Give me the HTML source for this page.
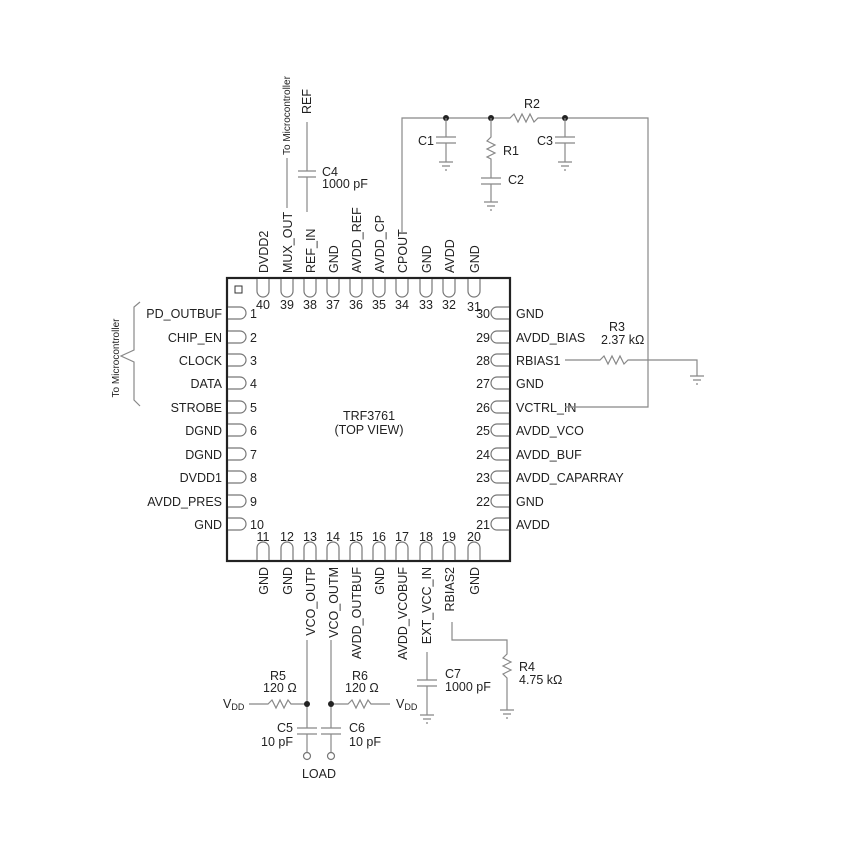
<!DOCTYPE html>
<html><head><meta charset="utf-8"><style>
html,body{margin:0;padding:0;background:#fff}
svg{display:block}
text{font-family:"Liberation Sans",sans-serif;font-size:12.5px;fill:#222}
.w{stroke:#888;stroke-width:1.2;fill:none}
.p{stroke:#777;stroke-width:1.2;fill:#fff}
</style></head><body>
<svg width="845" height="849" viewBox="0 0 845 849" xmlns="http://www.w3.org/2000/svg">
<rect x="227" y="278" width="283" height="283" fill="#fff" stroke="#222" stroke-width="2.2"/>
<rect x="235" y="286" width="7" height="7" fill="none" stroke="#333" stroke-width="1"/>
<g class="p">
<path d="M257 279V291A6 6 0 0 0 269 291V279"/>
<path d="M281 279V291A6 6 0 0 0 293 291V279"/>
<path d="M304 279V291A6 6 0 0 0 316 291V279"/>
<path d="M327 279V291A6 6 0 0 0 339 291V279"/>
<path d="M350 279V291A6 6 0 0 0 362 291V279"/>
<path d="M373 279V291A6 6 0 0 0 385 291V279"/>
<path d="M396 279V291A6 6 0 0 0 408 291V279"/>
<path d="M420 279V291A6 6 0 0 0 432 291V279"/>
<path d="M443 279V291A6 6 0 0 0 455 291V279"/>
<path d="M468 279V291A6 6 0 0 0 480 291V279"/>
</g>
<g text-anchor="middle">
<text x="263" y="309">40</text><text x="287" y="309">39</text><text x="310" y="309">38</text><text x="333" y="309">37</text><text x="356" y="309">36</text><text x="379" y="309">35</text><text x="402" y="309">34</text><text x="426" y="309">33</text><text x="449" y="309">32</text><text x="474" y="311">31</text>
</g>
<g text-anchor="start">
<text transform="translate(268,273) rotate(-90)">DVDD2</text>
<text transform="translate(292,273) rotate(-90)">MUX_OUT</text>
<text transform="translate(315,273) rotate(-90)">REF_IN</text>
<text transform="translate(338,273) rotate(-90)">GND</text>
<text transform="translate(361,273) rotate(-90)">AVDD_REF</text>
<text transform="translate(384,273) rotate(-90)">AVDD_CP</text>
<text transform="translate(407,273) rotate(-90)">CPOUT</text>
<text transform="translate(431,273) rotate(-90)">GND</text>
<text transform="translate(454,273) rotate(-90)">AVDD</text>
<text transform="translate(479,273) rotate(-90)">GND</text>
</g>
<g class="p">
<path d="M257 560V548A6 6 0 0 1 269 548V560"/>
<path d="M281 560V548A6 6 0 0 1 293 548V560"/>
<path d="M304 560V548A6 6 0 0 1 316 548V560"/>
<path d="M327 560V548A6 6 0 0 1 339 548V560"/>
<path d="M350 560V548A6 6 0 0 1 362 548V560"/>
<path d="M373 560V548A6 6 0 0 1 385 548V560"/>
<path d="M396 560V548A6 6 0 0 1 408 548V560"/>
<path d="M420 560V548A6 6 0 0 1 432 548V560"/>
<path d="M443 560V548A6 6 0 0 1 455 548V560"/>
<path d="M468 560V548A6 6 0 0 1 480 548V560"/>
</g>
<g text-anchor="middle">
<text x="263" y="541">11</text><text x="287" y="541">12</text><text x="310" y="541">13</text><text x="333" y="541">14</text><text x="356" y="541">15</text><text x="379" y="541">16</text><text x="402" y="541">17</text><text x="426" y="541">18</text><text x="449" y="541">19</text><text x="474" y="541">20</text>
</g>
<g text-anchor="end">
<text transform="translate(268,567) rotate(-90)">GND</text>
<text transform="translate(292,567) rotate(-90)">GND</text>
<text transform="translate(315,567) rotate(-90)">VCO_OUTP</text>
<text transform="translate(338,567) rotate(-90)">VCO_OUTM</text>
<text transform="translate(361,567) rotate(-90)">AVDD_OUTBUF</text>
<text transform="translate(384,567) rotate(-90)">GND</text>
<text transform="translate(407,567) rotate(-90)">AVDD_VCOBUF</text>
<text transform="translate(431,567) rotate(-90)">EXT_VCC_IN</text>
<text transform="translate(454,567) rotate(-90)">RBIAS2</text>
<text transform="translate(479,567) rotate(-90)">GND</text>
</g>
<g class="p">
<path d="M228 307H240A6 6 0 0 1 240 319H228"/>
<path d="M228 331H240A6 6 0 0 1 240 343H228"/>
<path d="M228 354H240A6 6 0 0 1 240 366H228"/>
<path d="M228 377H240A6 6 0 0 1 240 389H228"/>
<path d="M228 401H240A6 6 0 0 1 240 413H228"/>
<path d="M228 424H240A6 6 0 0 1 240 436H228"/>
<path d="M228 448H240A6 6 0 0 1 240 460H228"/>
<path d="M228 471H240A6 6 0 0 1 240 483H228"/>
<path d="M228 495H240A6 6 0 0 1 240 507H228"/>
<path d="M228 518H240A6 6 0 0 1 240 530H228"/>
</g>
<g>
<text x="250" y="318">1</text><text x="250" y="342">2</text><text x="250" y="365">3</text><text x="250" y="388">4</text><text x="250" y="412">5</text><text x="250" y="435">6</text><text x="250" y="459">7</text><text x="250" y="482">8</text><text x="250" y="506">9</text><text x="250" y="529">10</text>
</g>
<g text-anchor="end">
<text x="222" y="318">PD_OUTBUF</text><text x="222" y="342">CHIP_EN</text><text x="222" y="365">CLOCK</text><text x="222" y="388">DATA</text><text x="222" y="412">STROBE</text><text x="222" y="435">DGND</text><text x="222" y="459">DGND</text><text x="222" y="482">DVDD1</text><text x="222" y="506">AVDD_PRES</text><text x="222" y="529">GND</text>
</g>
<g class="p">
<path d="M509 307H497A6 6 0 0 0 497 319H509"/>
<path d="M509 331H497A6 6 0 0 0 497 343H509"/>
<path d="M509 354H497A6 6 0 0 0 497 366H509"/>
<path d="M509 377H497A6 6 0 0 0 497 389H509"/>
<path d="M509 401H497A6 6 0 0 0 497 413H509"/>
<path d="M509 424H497A6 6 0 0 0 497 436H509"/>
<path d="M509 448H497A6 6 0 0 0 497 460H509"/>
<path d="M509 471H497A6 6 0 0 0 497 483H509"/>
<path d="M509 495H497A6 6 0 0 0 497 507H509"/>
<path d="M509 518H497A6 6 0 0 0 497 530H509"/>
</g>
<g text-anchor="end">
<text x="490" y="318">30</text><text x="490" y="342">29</text><text x="490" y="365">28</text><text x="490" y="388">27</text><text x="490" y="412">26</text><text x="490" y="435">25</text><text x="490" y="459">24</text><text x="490" y="482">23</text><text x="490" y="506">22</text><text x="490" y="529">21</text>
</g>
<g>
<text x="516" y="318">GND</text><text x="516" y="342">AVDD_BIAS</text><text x="516" y="365">RBIAS1</text><text x="516" y="388">GND</text><text x="516" y="412">VCTRL_IN</text><text x="516" y="435">AVDD_VCO</text><text x="516" y="459">AVDD_BUF</text><text x="516" y="482">AVDD_CAPARRAY</text><text x="516" y="506">GND</text><text x="516" y="529">AVDD</text>
</g>
<text x="369" y="420" text-anchor="middle">TRF3761</text>
<text x="369" y="434" text-anchor="middle">(TOP VIEW)</text>

<path class="w" d="M140 302L134 307V350L121 356L134 362V400L140 406"/>
<text transform="translate(119,358) rotate(-90)" text-anchor="middle" style="font-size:10px">To Microcontroller</text>

<path class="w" d="M287 208V158"/>
<text transform="translate(290,155) rotate(-90)" style="font-size:10px">To Microcontroller</text>
<text transform="translate(311,114) rotate(-90)">REF</text>
<path class="w" d="M307 122V171M307 177V212M298 171H316M298 177H316"/>
<text x="322" y="176">C4</text><text x="322" y="188">1000 pF</text>

<path class="w" d="M402 232V118H510L514 114L518 122L522 114L526 122L530 114L534 122L538 118H648V407H565"/>
<text x="524" y="108">R2</text>
<g fill="#222"><circle cx="446" cy="118" r="3"/><circle cx="491" cy="118" r="3"/><circle cx="565" cy="118" r="3"/></g>
<path class="w" d="M446 118V137M436 137H456M436 143H456M446 143V162M439 162H453M442 166H450M445 170H447"/>
<text x="418" y="145">C1</text>
<path class="w" d="M565 118V137M555 137H575M555 143H575M565 143V162M558 162H572M561 166H569M564 170H566"/>
<text x="537" y="145">C3</text>
<path class="w" d="M491 118V137L487 141L495 145L487 149L495 153L487 157L491 159V178M481 178H501M481 184H501M491 184V202M484 202H498M487 206H495M490 210H492"/>
<text x="503" y="155">R1</text><text x="508" y="184">C2</text>

<path class="w" d="M565 360H600L604 356L608 364L612 356L616 364L620 356L624 364L628 360H697V376M690 376H704M693 380H701M696 384H698"/>
<text x="609" y="331">R3</text><text x="601" y="344">2.37 kΩ</text>

<path class="w" d="M307 640V728M307 734V752M331 640V728M331 734V752"/>
<path class="w" d="M297 728H317M297 734H317M321 728H341M321 734H341"/>
<circle cx="307" cy="756" r="3.5" fill="#fff" stroke="#777" stroke-width="1.2"/>
<circle cx="331" cy="756" r="3.5" fill="#fff" stroke="#777" stroke-width="1.2"/>
<text x="319" y="778" text-anchor="middle">LOAD</text>
<path class="w" d="M249 704H268L272 700L276 708L280 700L284 708L288 700L291 704H307"/>
<path class="w" d="M331 704H348L352 700L356 708L360 700L364 708L368 700L371 704H390"/>
<g fill="#222"><circle cx="307" cy="704" r="3"/><circle cx="331" cy="704" r="3"/></g>
<text x="223" y="708">V<tspan style="font-size:9px" dy="2">DD</tspan></text>
<text x="396" y="708">V<tspan style="font-size:9px" dy="2">DD</tspan></text>
<text x="270" y="680">R5</text><text x="263" y="692">120 Ω</text>
<text x="352" y="680">R6</text><text x="345" y="692">120 Ω</text>
<text x="293" y="732" text-anchor="end">C5</text><text x="293" y="746" text-anchor="end">10 pF</text>
<text x="349" y="732">C6</text><text x="349" y="746">10 pF</text>
<path class="w" d="M427 652V680M417 680H437M417 686H437M427 686V715M420 715H434M423 719H431M426 723H428"/>
<text x="445" y="678">C7</text><text x="445" y="691">1000 pF</text>
<path class="w" d="M452 622V640H507V654L503 658L511 662L503 666L511 670L503 674L507 678V710M500 710H514M503 714H511M506 718H508"/>
<text x="519" y="671">R4</text><text x="519" y="684">4.75 kΩ</text>
</svg>
</body></html>
